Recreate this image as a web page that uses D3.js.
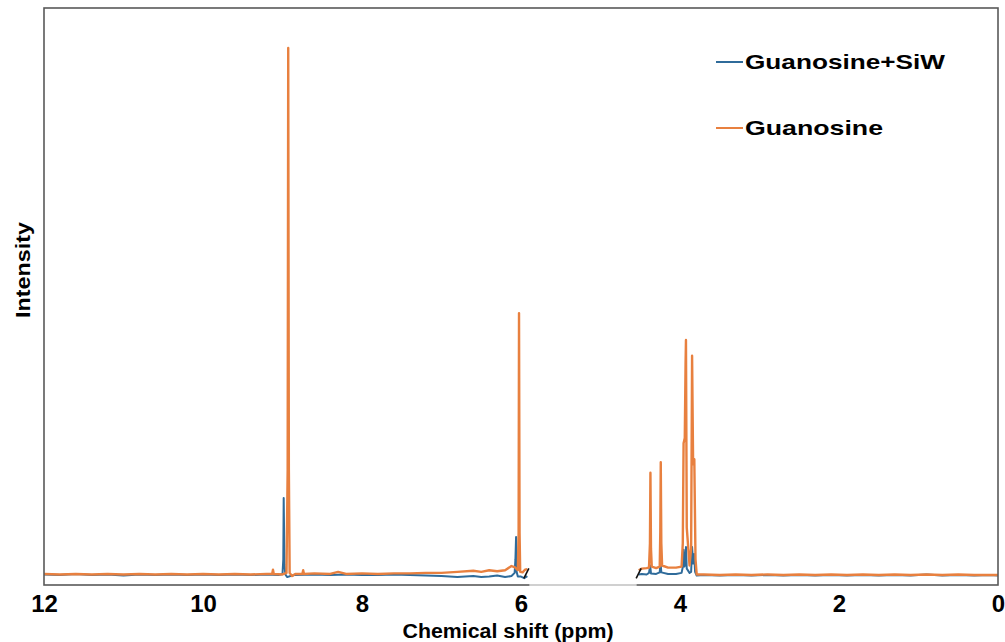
<!DOCTYPE html>
<meta charset="utf-8">
<style>
  body { margin: 0; background: #fff; }
  text { font-family: "Liberation Sans", Arial, sans-serif; font-weight: bold; }
</style>
<div id="chart"></div>
<script src="https://cdn.jsdelivr.net/npm/d3@7"></script>
<script>
// 1H NMR spectra, [ppm, intensity] pairs
// left segment runs 12 -> 5.92 ppm, right segment 4.52 -> 0 ppm (axis is broken between)
var siwLeft = [
  [12.0, 0.1], [11.8, 0.0], [11.6, 0.2], [11.4, 0.0], [11.2, 0.1], [11.0, -0.1],
  [10.8, 0.1], [10.6, 0.0], [10.4, 0.1], [10.2, 0.0], [10.0, 0.1], [9.8, 0.0],
  [9.6, 0.1], [9.4, 0.0], [9.2, 0.1], [9.05, 0.0], [9.0, 0.2], [8.99, 3.0],
  [8.985, 14.6], [8.975, 2.0], [8.965, 0.1], [8.94, -0.4], [8.9, -0.2], [8.85, 0.0],
  [8.6, 0.1], [8.4, 0.0], [8.2, 0.1], [8.0, 0.0], [7.8, 0.0], [7.6, 0.1],
  [7.4, 0.0], [7.2, -0.1], [7.0, -0.2], [6.8, -0.4], [6.6, -0.2], [6.5, -0.4],
  [6.4, -0.3], [6.3, -0.1], [6.2, -0.4], [6.12, -0.2], [6.08, 0.4], [6.07, 3.0],
  [6.062, 7.2], [6.055, 0.6], [6.04, -0.3], [6.0, -0.3], [5.96, -0.6], [5.92, -0.2]
];
var guanosineLeft = [
  [12.0, 0.2], [11.8, 0.1], [11.6, 0.2], [11.4, 0.1], [11.2, 0.2], [11.0, 0.1],
  [10.8, 0.2], [10.6, 0.1], [10.4, 0.2], [10.2, 0.1], [10.0, 0.2], [9.8, 0.1],
  [9.6, 0.2], [9.4, 0.1], [9.2, 0.2], [9.13, 0.2], [9.12, 1.0], [9.11, 0.2],
  [9.0, 0.1], [8.95, 0.4], [8.935, 20.0], [8.928, 100.0], [8.92, 20.0], [8.91, 0.4],
  [8.88, -0.2], [8.84, 0.2], [8.75, 0.2], [8.74, 0.9], [8.73, 0.2], [8.6, 0.3],
  [8.4, 0.2], [8.3, 0.6], [8.2, 0.2], [8.0, 0.3], [7.8, 0.2], [7.6, 0.3],
  [7.4, 0.3], [7.2, 0.4], [7.0, 0.4], [6.8, 0.6], [6.6, 0.8], [6.5, 0.6],
  [6.4, 0.9], [6.3, 0.7], [6.2, 0.9], [6.12, 1.7], [6.08, 1.5], [6.04, 0.9],
  [6.03, 8.0], [6.025, 49.7], [6.018, 8.0], [6.01, 0.6], [5.98, 0.5], [5.95, 1.0], [5.92, 1.1]
];
var siwRight = [
  [4.52, 0.1], [4.48, 0.2], [4.42, 0.1], [4.39, 0.4], [4.375, 1.8], [4.365, 0.3],
  [4.3, 0.2], [4.255, 0.5], [4.245, 2.4], [4.235, 0.5], [4.15, 0.2], [4.05, 0.2],
  [3.98, 0.4], [3.965, 1.5], [3.955, 4.8], [3.945, 1.6], [3.935, 2.0], [3.925, 5.3],
  [3.915, 1.2], [3.88, 0.4], [3.86, 0.6], [3.848, 5.3], [3.835, 2.2], [3.822, 4.0],
  [3.81, 0.6], [3.79, -0.1], [3.7, 0.0], [3.5, -0.1], [3.3, 0.0], [3.1, -0.1],
  [2.9, 0.0], [2.7, -0.1], [2.5, 0.0], [2.3, -0.1], [2.1, 0.0], [1.9, -0.1],
  [1.7, 0.0], [1.5, -0.1], [1.3, 0.0], [1.1, -0.1], [0.9, 0.1], [0.7, -0.1],
  [0.5, 0.0], [0.3, -0.1], [0.1, 0.0], [0.0, -0.1]
];
var guanosineRight = [
  [4.52, 0.9], [4.48, 1.2], [4.42, 1.3], [4.39, 1.4], [4.378, 6.0], [4.372, 19.4],
  [4.365, 5.0], [4.355, 1.6], [4.3, 1.3], [4.255, 1.6], [4.248, 8.0], [4.242, 21.4],
  [4.235, 6.0], [4.225, 1.8], [4.15, 1.4], [4.05, 1.4], [3.98, 1.6], [3.965, 6.0],
  [3.955, 25.0], [3.94, 26.0], [3.93, 40.0], [3.925, 44.6], [3.915, 9.0], [3.88, 1.8],
  [3.86, 5.0], [3.848, 41.6], [3.835, 21.0], [3.82, 22.0], [3.805, 3.0], [3.79, 0.1],
  [3.7, 0.1], [3.5, 0.0], [3.3, 0.1], [3.1, 0.0], [2.9, 0.1], [2.7, 0.0],
  [2.5, 0.1], [2.3, 0.0], [2.1, 0.1], [1.9, 0.0], [1.7, 0.1], [1.5, 0.0],
  [1.3, 0.1], [1.1, 0.0], [0.9, 0.1], [0.7, 0.0], [0.5, 0.1], [0.3, 0.0], [0.0, 0.0]
];
var xTicks = [12, 10, 8, 6, 4, 2, 0];
var legendNames = ["Guanosine+SiW", "Guanosine"];
var colors = ["#2f6b9a", "#e8803f"];

var W = 1005, H = 642;
var margin = {top: 8, right: 7, bottom: 57, left: 44};
var width = W - margin.left - margin.right,
    height = H - margin.top - margin.bottom;

var svg = d3.select("#chart").append("svg")
  .attr("width", W)
  .attr("height", H);

var g = svg.append("g")
  .attr("transform", "translate(" + margin.left + "," + margin.top + ")");

var x = d3.scaleLinear().domain([12, 0]).range([0, width]);
var y = d3.scaleLinear().domain([-1.9, 107.6]).range([height, 0]);

g.append("clipPath").attr("id", "clip")
  .append("rect").attr("width", width).attr("height", height);

var line = d3.line()
  .x(function(d) { return x(d[0]); })
  .y(function(d) { return y(d[1]); });

var plot = g.append("g").attr("clip-path", "url(#clip)");

// blue under, orange on top
[siwLeft, siwRight].forEach(function(s) {
  plot.append("path").datum(s)
    .attr("fill", "none").attr("stroke", colors[0])
    .attr("stroke-width", 2).attr("stroke-linejoin", "round")
    .attr("d", line);
});
[guanosineLeft, guanosineRight].forEach(function(s) {
  plot.append("path").datum(s)
    .attr("fill", "none").attr("stroke", colors[1])
    .attr("stroke-width", 2.4).attr("stroke-linejoin", "round")
    .attr("d", line);
});

// axis break marks
[5.92, 4.52].forEach(function(p) {
  var cx = x(p) + (p > 5 ? -1 : 0), cy = y(0.3);
  g.append("line")
    .attr("x1", cx - 2.5).attr("y1", cy + 5)
    .attr("x2", cx + 2.5).attr("y2", cy - 5)
    .attr("stroke", "#111").attr("stroke-width", 1.6);
});

// frame
g.append("rect")
  .attr("width", width).attr("height", height)
  .attr("fill", "none").attr("stroke", "#595959").attr("stroke-width", 1.6);
// lighter bottom edge inside the break
g.append("line")
  .attr("x1", x(5.92) + 2).attr("x2", x(4.52) - 2)
  .attr("y1", height).attr("y2", height)
  .attr("stroke", "#d0d0d0").attr("stroke-width", 2);

// x axis (labels only)
var xAxis = g.append("g")
  .attr("transform", "translate(0," + height + ")")
  .call(d3.axisBottom(x).tickValues(xTicks).tickSize(0).tickPadding(10).tickFormat(d3.format("d")));
xAxis.select(".domain").remove();
xAxis.selectAll("text")
  .attr("font-family", "'Liberation Sans', Arial, sans-serif")
  .attr("font-weight", "bold")
  .attr("font-size", 24)
  .attr("fill", "#000");

svg.append("text")
  .attr("x", 508).attr("y", 638)
  .attr("text-anchor", "middle")
  .attr("font-size", 20)
  .attr("textLength", 211).attr("lengthAdjust", "spacingAndGlyphs")
  .text("Chemical shift (ppm)");

svg.append("text")
  .attr("transform", "translate(30,270) rotate(-90)")
  .attr("text-anchor", "middle")
  .attr("font-size", 21)
  .attr("textLength", 96).attr("lengthAdjust", "spacingAndGlyphs")
  .text("Intensity");

// legend
var legendWidths = [200, 138];
var legend = svg.append("g");
legendNames.forEach(function(name, i) {
  var ly = 62 + i * 66;
  legend.append("line")
    .attr("x1", 716).attr("x2", 743)
    .attr("y1", ly).attr("y2", ly)
    .attr("stroke", colors[i]).attr("stroke-width", 2);
  legend.append("text")
    .attr("x", 745).attr("y", ly + 7)
    .attr("font-size", 21)
    .attr("textLength", legendWidths[i]).attr("lengthAdjust", "spacingAndGlyphs")
    .text(name);
});
</script>
